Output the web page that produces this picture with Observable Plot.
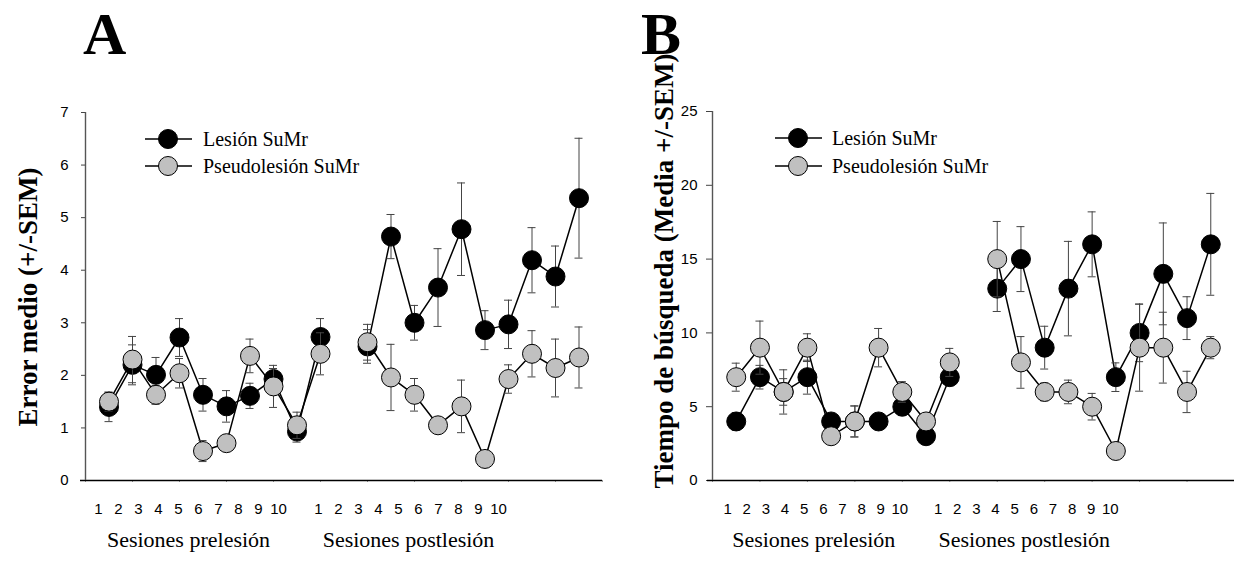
<!DOCTYPE html>
<html><head><meta charset="utf-8">
<script src="https://cdn.jsdelivr.net/npm/d3@7"></script>
<script src="https://cdn.jsdelivr.net/npm/@observablehq/plot@0.6"></script>
<style>
body{margin:0;background:#fff;}
#root{position:relative;width:1234px;height:570px;overflow:hidden;background:#fff;}
#root > *{position:absolute;}
</style></head><body><div id="root"></div>
<script>
// ---------- data ----------
const sessions = [1,2,3,4,5,6,7,8,9,10];
const phases = ["prelesión","postlesión"];
const phaseTitles = ["Sesiones prelesión","Sesiones postlesión"];
const groups = ["Lesión SuMr","Pseudolesión SuMr"];
const panelLetters = ["A","B"];
const yTitles = ["Error medio (+/-SEM)","Tiempo de búsqueda (Media +/-SEM)"];
const errorTicks = [0,1,2,3,4,5,6,7];
const timeTicks = [0,5,10,15,20,25];

// Panel A: error medio
const errLesPre      = [1.40,2.20,2.01,2.72,1.63,1.41,1.61,1.93,0.93,2.73];
const errLesPreSem   = [0.28,0.38,0.33,0.36,0.31,0.30,0.24,0.20,0.20,0.35];
const errLesPost     = [2.55,4.64,3.00,3.67,4.78,2.86,2.97,4.19,3.88,5.37];
const errLesPostSem  = [0.32,0.42,0.33,0.74,0.88,0.37,0.46,0.62,0.58,1.14];
const errPsePre      = [1.50,2.30,1.63,2.04,0.56,0.71,2.37,1.79,1.05,2.41];
const errPsePreSem   = [0.18,0.44,0.18,0.28,0.20,0.10,0.32,0.40,0.25,0.40];
const errPsePost     = [2.63,1.96,1.63,1.05,1.41,0.41,1.93,2.41,2.14,2.34];
const errPsePostSem  = [0.34,0.63,0.31,0.10,0.50,0.05,0.27,0.44,0.55,0.58];

// Panel B: tiempo de búsqueda
const timeLesPre     = [4,7,6,7,4,4,4,5,3,7];
const timeLesPreSem  = [0.60,0.80,1.50,1.15,0.50,1.05,0.40,0.60,0.30,0.40];
const timeLesPost    = [13,15,9,13,16,7,10,14,11,16];
const timeLesPostSem = [1.55,2.20,1.45,3.20,2.20,0.97,1.95,3.45,1.45,3.45];
const timePsePre     = [7,9,6,9,3,4,9,6,4,8];
const timePsePreSem  = [0.95,1.80,0.90,0.94,0.40,1.05,1.30,0.70,0.40,0.95];
const timePsePost    = [15,8,6,6,5,2,9,9,6,9];
const timePsePostSem = [2.55,1.75,0.60,0.80,0.90,0.30,2.95,2.40,1.40,0.75];

// ---------- build tables ----------
const slot = sessions.length + 1;
function table(series) {
  const out = [];
  groups.forEach((g, gi) => phases.forEach((p, pi) => {
    const [m, s] = series[gi][pi];
    sessions.forEach((ses, i) => out.push({group: g, gi, phase: p, session: ses,
      x: ses + pi * slot, mean: m[i], sem: s[i]}));
  }));
  return out;
}
const dataA = table([
  [[errLesPre, errLesPreSem], [errLesPost, errLesPostSem]],
  [[errPsePre, errPsePreSem], [errPsePost, errPsePostSem]]
]);
const dataB = table([
  [[timeLesPre, timeLesPreSem], [timeLesPost, timeLesPostSem]],
  [[timePsePre, timePsePreSem], [timePsePost, timePsePostSem]]
]);
const xDomain = [0, 2 * slot];
const fills = ["#000000", "#c0c0c0"];

function mainPlot({data, yTicks, width, ml, mr, mt, mb, tickSize, tickPadding}) {
  const marks = [
    Plot.axisX({ticks: d3.range(xDomain[0], xDomain[1] + 1, 2), tickFormat: () => "", tickSize: 2, stroke: "#999", label: null}),
    Plot.axisY({ticks: yTicks, tickFormat: d => String(d), tickSize, tickPadding, stroke: "#444", label: null,
      fontSize: 15, fontFamily: "Liberation Sans", fill: "#000"}),
    Plot.ruleY([0], {insetLeft: -5, stroke: "#000", strokeWidth: 1.3}),
    Plot.ruleX([0], {stroke: "#555", strokeWidth: 1.4})
  ];
  groups.forEach((g, gi) => {
    const d = data.filter(r => r.group === g);
    marks.push(
      Plot.line(d, {x: "x", y: "mean", z: "phase", stroke: "#000", strokeWidth: 1.5}),
      Plot.ruleX(d, {x: "x", y1: r => r.mean - r.sem, y2: r => r.mean + r.sem, stroke: "#444", strokeWidth: 1}),
      Plot.ruleY(d, {x1: "x", x2: "x", y: r => r.mean + r.sem, insetLeft: -4, insetRight: -4, stroke: "#444", strokeWidth: 1}),
      Plot.ruleY(d, {x1: "x", x2: "x", y: r => r.mean - r.sem, insetLeft: -4, insetRight: -4, stroke: "#444", strokeWidth: 1}),
      Plot.dot(d, {x: "x", y: "mean", r: 9.5, fill: fills[gi], stroke: "#000", strokeWidth: 1})
    );
  });
  return Plot.plot({
    width, height: 570, marginLeft: ml, marginRight: mr, marginTop: mt, marginBottom: mb,
    x: {domain: xDomain},
    y: {domain: [yTicks[0], yTicks[yTicks.length - 1]]},
    style: {background: "transparent", fontFamily: "Liberation Sans", fontSize: "15px", color: "#000"},
    marks
  });
}

function labelPlot({width, ml, mr}) {
  const ticks = phases.flatMap((p, pi) => sessions.map(s => ({x: s + pi * slot, label: String(s)})));
  const titles = phaseTitles.map((t, pi) => ({x: d3.mean(sessions) + pi * slot, label: t}));
  return Plot.plot({
    width, height: 70, marginLeft: ml, marginRight: mr, marginTop: 0, marginBottom: 0,
    x: {domain: xDomain, axis: null},
    style: {background: "transparent", color: "#000"},
    marks: [
      Plot.text(ticks, {x: "x", text: "label", frameAnchor: "top", lineAnchor: "bottom", dy: 23, fontSize: 15, fontFamily: "Liberation Sans", fill: "#000"}),
      Plot.text(titles, {x: "x", text: "label", frameAnchor: "top", lineAnchor: "bottom", dy: 56, fontSize: 22, fontFamily: "Liberation Serif", fill: "#000"})
    ]
  });
}

const root = document.getElementById("root");
function place(el, left, top) { el.style.left = left + "px"; el.style.top = top + "px"; root.appendChild(el); }

place(mainPlot({data: dataA, yTicks: errorTicks, width: 617, ml: 85, mr: 15, mt: 112, mb: 90, tickSize: 4, tickPadding: 13}), 0, 0);
place(mainPlot({data: dataB, yTicks: timeTicks, width: 614, ml: 92, mr: 0, mt: 111, mb: 90, tickSize: 6, tickPadding: 9}), 620, 0);
place(labelPlot({width: 617, ml: 78, mr: 99}), 0, 490);
place(labelPlot({width: 614, ml: 88, mr: 105}), 620, 490);

// ---------- overlay: panel letters, y titles, legends ----------
const svg = d3.create("svg").attr("width", 1234).attr("height", 570)
  .style("font-family", "Liberation Serif");
const letterX = [83, 641];
const yTitlePos = [[37, 297], [673, 271]];
const legendPos = [{x1: 145, x2: 192, cx: 168, tx: 203, ys: [139, 166]},
                   {x1: 775, x2: 822, cx: 798, tx: 832, ys: [138, 166]}];
panelLetters.forEach((L, i) => {
  svg.append("text").attr("x", letterX[i]).attr("y", 54).attr("font-size", 60)
    .attr("font-weight", "bold").text(L);
  svg.append("text").attr("transform", `translate(${yTitlePos[i][0]},${yTitlePos[i][1]}) rotate(-90)`)
    .attr("text-anchor", "middle").attr("font-size", 27).attr("font-weight", "bold").text(yTitles[i]);
  const lp = legendPos[i];
  groups.forEach((g, gi) => {
    const y = lp.ys[gi];
    svg.append("line").attr("x1", lp.x1).attr("x2", lp.x2).attr("y1", y).attr("y2", y)
      .attr("stroke", "#000").attr("stroke-width", 1.5);
    svg.append("circle").attr("cx", lp.cx).attr("cy", y).attr("r", 9.5)
      .attr("fill", fills[gi]).attr("stroke", "#000");
    svg.append("text").attr("x", lp.tx).attr("y", y + 7).attr("font-size", 20).text(g);
  });
});
place(svg.node(), 0, 0);
</script>
</body></html>
